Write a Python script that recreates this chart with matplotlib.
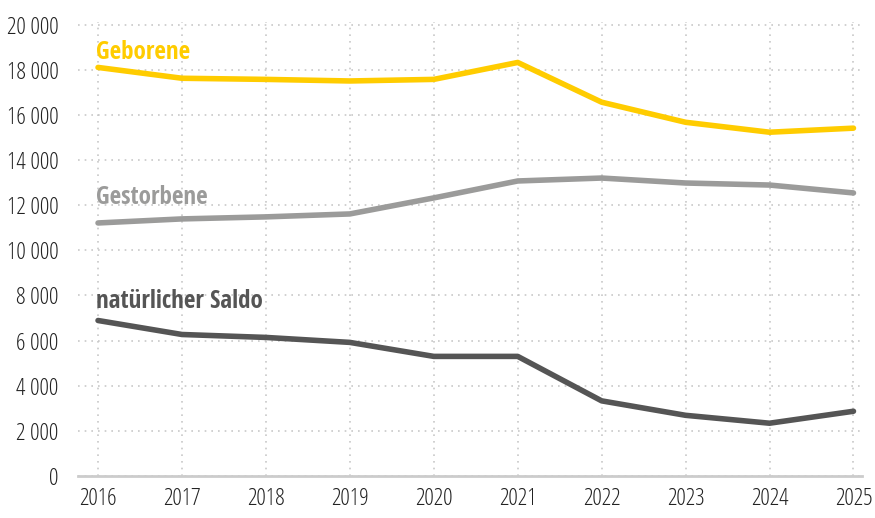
import matplotlib.pyplot as plt
from matplotlib.ticker import FuncFormatter

# Data
years = [2016, 2017, 2018, 2019, 2020, 2021, 2022, 2023, 2024, 2025]
geborene = [18100, 17620, 17570, 17500, 17570, 18320, 16560, 15670, 15230, 15410]
gestorbene = [11210, 11390, 11480, 11610, 12320, 13070, 13200, 12980, 12890, 12540]
saldo = [6890, 6270, 6140, 5920, 5300, 5300, 3330, 2690, 2340, 2870]

plt.rcParams['font.family'] = ['Open Sans Condensed', 'DejaVu Sans']

fig = plt.figure(figsize=(8.75, 5.18), dpi=100)
ax = fig.add_axes([0.089, 0.081, 0.896, 0.876])

ax.plot(years, geborene, color='#FFCC00', lw=4, solid_capstyle='round', zorder=3)
ax.plot(years, gestorbene, color='#9B9B9A', lw=4, solid_capstyle='round', zorder=3)
ax.plot(years, saldo, color='#555555', lw=4, solid_capstyle='round', zorder=3)

# series labels
ax.text(2015.98, 18780, 'Geborene', color='#FFCC00', fontsize=18, fontweight='bold', va='center')
ax.text(2015.98, 12330, 'Gestorbene', color='#9B9B9A', fontsize=18, fontweight='bold', va='center')
ax.text(2015.98, 7720, 'natürlicher Saldo', color='#555555', fontsize=18, fontweight='bold', va='center')

ax.set_xlim(2015.76, 2025.1)
ax.set_ylim(0, 20100)
ax.set_xticks(years)
ax.set_yticks(range(0, 20001, 2000))
ax.yaxis.set_major_formatter(FuncFormatter(lambda v, p: f'{int(v):,}'.replace(',', '\u2009')))

ax.grid(True, color='#c8c8c8', linestyle=(0, (1, 3)), lw=1.2)
ax.set_axisbelow(True)
for s in ['top', 'right', 'left']:
    ax.spines[s].set_visible(False)
ax.spines['bottom'].set_color('#cccccc')
ax.spines['bottom'].set_linewidth(2)
ax.tick_params(length=0, labelsize=17, colors='#222222')
ax.tick_params(axis='y', pad=14)
ax.tick_params(axis='x', pad=8)
for lbl in ax.get_xticklabels() + ax.get_yticklabels():
    lbl.set_family(['Open Sans', 'DejaVu Sans'])
    lbl.set_fontstretch('condensed')
    lbl.set_fontweight('normal')

fig.savefig('out.png', dpi=100)
